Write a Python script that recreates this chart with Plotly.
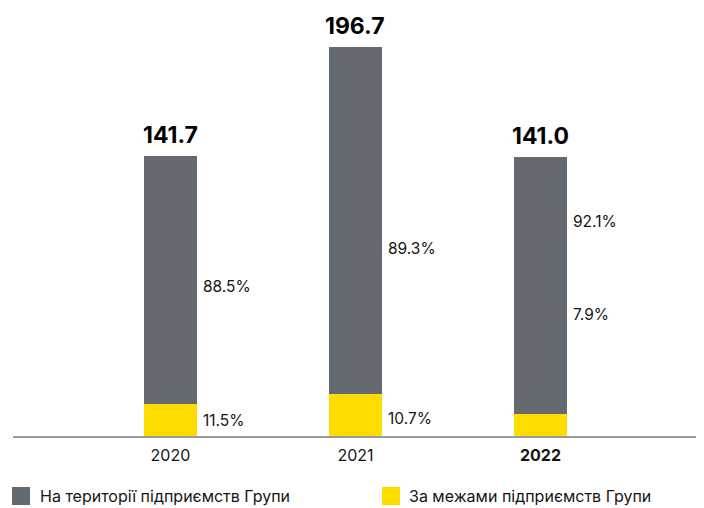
import plotly.graph_objects as go

years = ["2020", "2021", "2022"]
year_labels = ["2020", "2021", "<b>2022</b>"]
totals = [141.7, 196.7, 141.0]
share_inside = [88.5, 89.3, 92.1]   # %
share_outside = [11.5, 10.7, 7.9]   # %
inside_labels = ["88.5%", "89.3%", "92.1%"]
outside_labels = ["11.5%", "10.7%", "7.9%"]
total_labels = ["141.7", "196.7", "141.0"]
series_names = ["На території підприємств Групи", "За межами підприємств Групи"]

# label placement (data units of y axis) – layout only
inside_label_y = [75.8, 95.0, 108.7]
outside_label_y = [7.6, 8.6, 61.5]

outside_vals = [t * s / 100 for t, s in zip(totals, share_outside)]
inside_vals = [t - o for t, o in zip(totals, outside_vals)]

GRAY = "#646a70"
YELLOW = "#ffdc00"
FONT = "Inter"
TXT = "#151515"

x_idx = [0, 1, 2]
BAR_W = 0.286

fig = go.Figure()
fig.add_trace(go.Bar(
    x=x_idx, y=outside_vals, name=series_names[1],
    marker=dict(color=YELLOW, line=dict(width=0)), width=BAR_W,
    hoverinfo="skip", showlegend=False,
))
fig.add_trace(go.Bar(
    x=x_idx, y=inside_vals, name=series_names[0],
    marker=dict(color=GRAY, line=dict(width=0)), width=BAR_W,
    hoverinfo="skip", showlegend=False,
))

annotations = []
for i in range(3):
    annotations.append(dict(
        x=i, y=totals[i], xref="x", yref="y", text=f"<b>{total_labels[i]}</b>",
        showarrow=False, yanchor="bottom", yshift=5,
        font=dict(family=FONT, size=23, color="#000000"),
    ))
    annotations.append(dict(
        x=i + BAR_W / 2, y=inside_label_y[i], xref="x", yref="y", text=inside_labels[i],
        showarrow=False, xanchor="left", xshift=4,
        font=dict(family=FONT, size=15.5, color=TXT),
    ))
    annotations.append(dict(
        x=i + BAR_W / 2, y=outside_label_y[i], xref="x", yref="y", text=outside_labels[i],
        showarrow=False, xanchor="left", xshift=4,
        font=dict(family=FONT, size=15.5, color=TXT),
    ))

# custom legend (squares + text) below the plot, in paper coordinates
PLOT_L, PLOT_W = 13, 684      # window px
PLOT_B, PLOT_H = 436, 426


def px_x(p):
    return (p - PLOT_L) / PLOT_W


def px_y(p):
    return (PLOT_B - p) / PLOT_H


shapes = []
legend_items = [(12, 39, GRAY, series_names[0]), (382, 408, YELLOW, series_names[1])]
for sq_x, tx_x, col, name in legend_items:
    shapes.append(dict(
        type="rect", xref="paper", yref="paper",
        x0=px_x(sq_x), x1=px_x(sq_x + 18), y0=px_y(505), y1=px_y(487),
        fillcolor=col, line=dict(width=0),
    ))
    annotations.append(dict(
        x=px_x(tx_x), y=px_y(496), xref="paper", yref="paper", text=name,
        showarrow=False, xanchor="left", yanchor="middle", xshift=-1,
        font=dict(family=FONT, size=16, color=TXT),
    ))

fig.update_layout(
    barmode="stack",
    width=696, height=500,
    margin=dict(l=5, r=7, t=2, b=72, autoexpand=False),
    paper_bgcolor="white", plot_bgcolor="white",
    font=dict(family=FONT, size=16, color=TXT),
    xaxis=dict(
        range=[-0.851, 2.846], tickmode="array", tickvals=x_idx, ticktext=year_labels,
        showgrid=False, zeroline=False, showline=True, linecolor="#9a9a9a", linewidth=2,
        ticks="", ticklen=0, ticklabelstandoff=4, tickfont=dict(family=FONT, size=16, color=TXT),
        fixedrange=True, automargin=False,
    ),
    yaxis=dict(range=[0, 215.4], visible=False, fixedrange=True),
    annotations=annotations,
    shapes=shapes,
    showlegend=False,
)

fig.write_html("out.html")
